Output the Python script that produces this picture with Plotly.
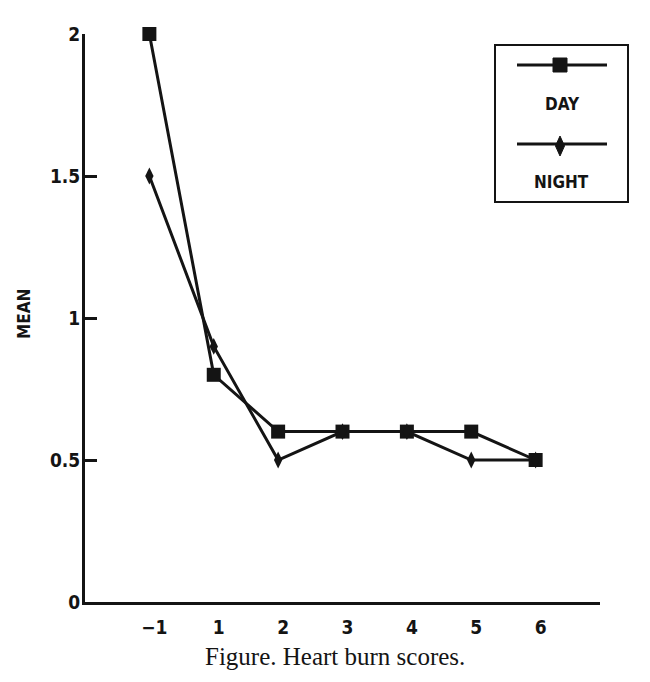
import plotly.graph_objects as go

# heart burn scores, mean per score group
scores = ["\u22121", "1", "2", "3", "4", "5", "6"]
day_mean = [2.0, 0.8, 0.6, 0.6, 0.6, 0.6, 0.5]
night_mean = [1.5, 0.9, 0.5, 0.6, 0.6, 0.5, 0.5]
y_ticks = [0, 0.5, 1, 1.5, 2]
y_tick_labels = ["0", "0.5", "1", "1.5", "2"]

ink = "#141414"
narrow = "DejaVu Sans Condensed, DejaVu Sans, sans-serif"
serif = "Liberation Serif, Times New Roman, serif"

# page has an 8px body margin, so the figure is shrunk by that much
OFF = 8
L, R, T, B = 85, 600, 34, 602  # plot area in page pixels

fig = go.Figure()
fig.add_trace(go.Scatter(
    x=scores, y=day_mean, name="DAY", mode="lines+markers",
    line=dict(color=ink, width=3),
    marker=dict(symbol="square", size=14, color=ink),
    cliponaxis=False,
))
fig.add_trace(go.Scatter(
    x=scores, y=night_mean, name="NIGHT", mode="lines+markers",
    line=dict(color=ink, width=3),
    marker=dict(symbol="diamond-tall", size=12, color=ink),
    cliponaxis=False,
))


def px_x(p):
    return (p - L) / (R - L)


def px_y(p):
    return (B - p) / (B - T)


# hand drawn legend box: symbol line above, label below
shapes = [
    dict(type="rect", xref="paper", yref="paper",
         x0=px_x(495), x1=px_x(628), y0=px_y(202), y1=px_y(45),
         line=dict(color=ink, width=2)),
    dict(type="line", xref="paper", yref="paper",
         x0=px_x(517), x1=px_x(607), y0=px_y(65), y1=px_y(65),
         line=dict(color=ink, width=3)),
    dict(type="rect", xref="paper", yref="paper",
         x0=px_x(553), x1=px_x(567), y0=px_y(72), y1=px_y(58),
         fillcolor=ink, line=dict(color=ink, width=1)),
    dict(type="line", xref="paper", yref="paper",
         x0=px_x(517), x1=px_x(607), y0=px_y(144), y1=px_y(144),
         line=dict(color=ink, width=3)),
    dict(type="path", xref="paper", yref="paper",
         path=f"M {px_x(560)} {px_y(136)} L {px_x(564.5)} {px_y(146)} "
              f"L {px_x(560)} {px_y(156)} L {px_x(555.5)} {px_y(146)} Z",
         fillcolor=ink, line=dict(color=ink, width=1)),
]

label_font = dict(family=narrow, size=17, color=ink, weight=700)
annotations = [
    dict(text="DAY", xref="paper", yref="paper", x=px_x(562), y=px_y(104),
         xanchor="center", yanchor="middle", showarrow=False, font=label_font),
    dict(text="NIGHT", xref="paper", yref="paper", x=px_x(561), y=px_y(182),
         xanchor="center", yanchor="middle", showarrow=False, font=label_font),
    dict(text="MEAN", xref="paper", yref="paper", x=px_x(24), y=px_y(314),
         xanchor="center", yanchor="middle", textangle=-90, showarrow=False,
         font=label_font),
    dict(text="Figure. Heart burn scores.", xref="paper", yref="paper",
         x=px_x(335), y=px_y(656), xanchor="center", yanchor="middle",
         showarrow=False, font=dict(family=serif, size=25, color=ink)),
]

fig.update_layout(
    width=650 - OFF, height=682 - OFF,
    margin=dict(l=L - OFF, r=650 - R, t=T - OFF, b=682 - B, pad=0),
    paper_bgcolor="white", plot_bgcolor="white",
    showlegend=False,
    shapes=shapes, annotations=annotations,
    font=dict(family=narrow, size=18, color=ink),
)
fig.update_xaxes(
    type="category", range=[-1, 7],
    showline=True, linecolor=ink, linewidth=3,
    showgrid=False, zeroline=False, ticks="",
    ticklabelstandoff=6, ticklabelshift=5,
    tickfont=dict(family=narrow, size=19, color=ink, weight=700),
)
fig.update_yaxes(
    range=[0, 2], tickvals=y_ticks, ticktext=y_tick_labels,
    showline=True, linecolor=ink, linewidth=3,
    showgrid=False, zeroline=False,
    ticks="inside", ticklen=12, tickwidth=2.5, tickcolor=ink,
    ticklabelstandoff=-2,
    tickfont=dict(family=narrow, size=19, color=ink, weight=700),
)

fig.write_html("out.html")
